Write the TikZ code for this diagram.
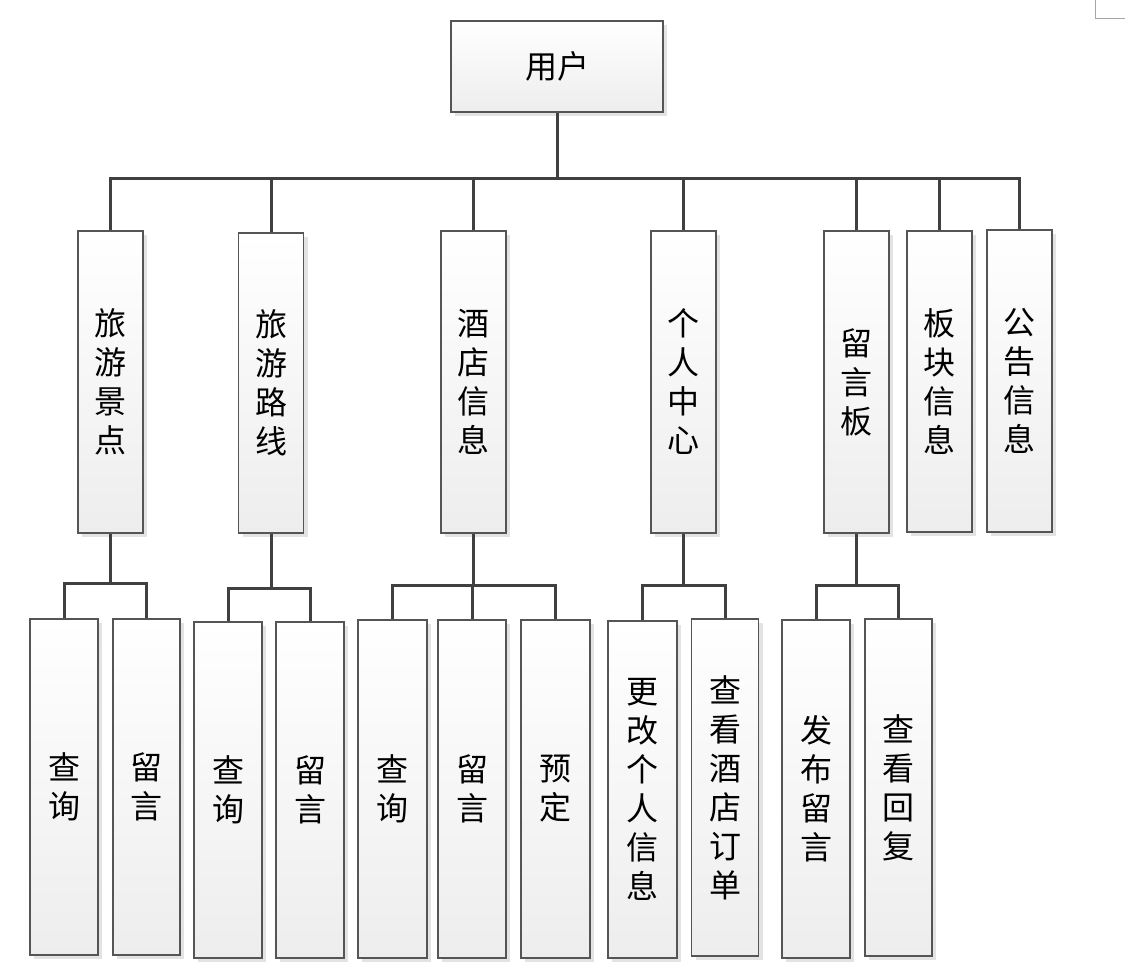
\documentclass[tikz,border=0pt]{standalone}
\usepackage{fontspec}
\newfontfamily\cjk{Noto Sans CJK SC}
\usetikzlibrary{shadows}
\definecolor{linec}{HTML}{404040}
\definecolor{boxline}{HTML}{555555}
\begin{document}
\begin{tikzpicture}[x=1pt,y=-1pt,
  box/.style={draw=boxline, line width=1.1pt, top color=white, bottom color=black!7,
    inner sep=0pt, align=center, font=\cjk\fontsize{32}{39}\selectfont,
    drop shadow={shadow xshift=4pt, shadow yshift=-4pt, fill=black!11, opacity=1}},
  mid/.style={box, minimum width=65pt, minimum height=302pt},
  low/.style={box, minimum width=68pt, minimum height=337pt},
  conn/.style={draw=linec, line width=3pt}]
\useasboundingbox (0,0) rectangle (1125,980);
% page corner marker
\draw[black!35, line width=0.8pt] (1095,0) -- (1095,18) -- (1125,18);
% top
\node[box, minimum width=212pt, minimum height=91pt] (top) at (557,66.5) {用户};
% level 2
\node[mid] (a) at (110.5,382) {旅\\游\\景\\点};
\node[mid, minimum height=300pt] (b) at (271,383) {旅\\游\\路\\线};
\node[mid] (c) at (473.5,382) {酒\\店\\信\\息};
\node[mid] (d) at (683.5,382) {个\\人\\中\\心};
\node[mid] (e) at (856.5,382) {留\\言\\板};
\node[mid, minimum height=301pt] (f) at (939.5,381.5) {板\\块\\信\\息};
\node[mid, minimum height=302pt] (g) at (1019.5,381) {公\\告\\信\\息};
% level 3
\node[low, minimum height=336pt] (a1) at (64,787) {查\\询};
\node[low, minimum width=67pt, minimum height=336pt] (a2) at (146.5,787) {留\\言};
\node[low, minimum height=336pt] (b1) at (228,790) {查\\询};
\node[low, minimum height=336pt] (b2) at (310,790) {留\\言};
\node[low, minimum width=69pt, minimum height=338pt] (c1) at (392.5,789) {查\\询};
\node[low, minimum height=338pt] (c2) at (472,789) {留\\言};
\node[low, minimum width=69pt, minimum height=338pt] (c3) at (555.5,789) {预\\定};
\node[low, minimum width=69pt, minimum height=337pt] (d1) at (642.5,789.5) {更\\改\\个\\人\\信\\息};
\node[low, minimum width=67pt, minimum height=337pt] (d2) at (725,787.5) {查\\看\\酒\\店\\订\\单};
\node[low, minimum width=68pt, minimum height=338pt] (e1) at (816,789) {发\\布\\留\\言};
\node[low, minimum width=67pt, minimum height=337pt] (e2) at (898.5,787.5) {查\\看\\回\\复};
% bus coordinates
\coordinate (bus0) at (0,178);
\coordinate (busa) at (0,583);
\coordinate (busb) at (0,588);
\coordinate (busc) at (0,585);
\coordinate (busd) at (0,585);
\coordinate (buse) at (0,585);
% connectors top -> level 2
\draw[conn] (top.south) -- (top.south |- bus0);
\draw[conn, line cap=rect] (a.north |- bus0) -- (g.north |- bus0);
\foreach \n in {a,b,c,d,e,f,g} \draw[conn] (\n.north |- bus0) -- (\n.north);
% level 2 -> level 3
\draw[conn] (a.south) -- (a.south |- busa);
\draw[conn, line cap=rect] (a1.north |- busa) -- (a2.north |- busa);
\foreach \n in {a1,a2} \draw[conn] (\n.north |- busa) -- (\n.north);
\draw[conn] (b.south) -- (b.south |- busb);
\draw[conn, line cap=rect] (b1.north |- busb) -- (b2.north |- busb);
\foreach \n in {b1,b2} \draw[conn] (\n.north |- busb) -- (\n.north);
\draw[conn] (c.south) -- (c.south |- busc);
\draw[conn, line cap=rect] (c1.north |- busc) -- (c3.north |- busc);
\foreach \n in {c1,c2,c3} \draw[conn] (\n.north |- busc) -- (\n.north);
\draw[conn] (d.south) -- (d.south |- busd);
\draw[conn, line cap=rect] (d1.north |- busd) -- (d2.north |- busd);
\foreach \n in {d1,d2} \draw[conn] (\n.north |- busd) -- (\n.north);
\draw[conn] (e.south) -- (e.south |- buse);
\draw[conn, line cap=rect] (e1.north |- buse) -- (e2.north |- buse);
\foreach \n in {e1,e2} \draw[conn] (\n.north |- buse) -- (\n.north);
\end{tikzpicture}
\end{document}
